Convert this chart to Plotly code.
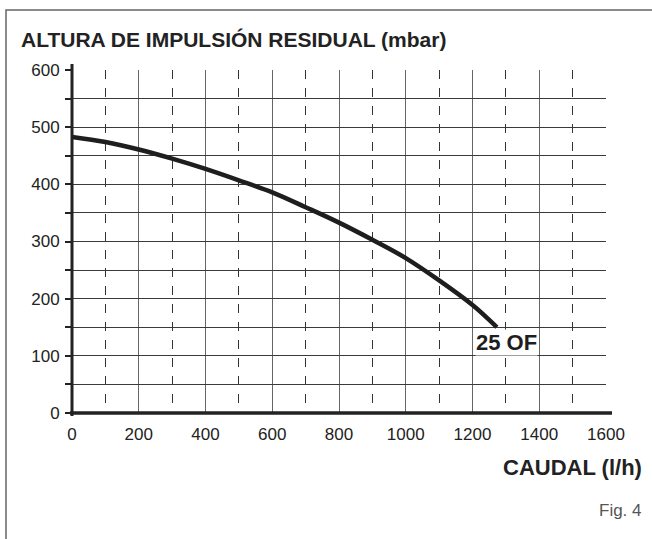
import plotly.graph_objects as go

# ---- data ----
flow = [0, 100, 200, 300, 400, 500, 600, 700, 800, 900, 1000, 1100, 1200, 1250, 1273]
head = [483, 474, 461, 445, 427, 407, 386, 360, 333, 303, 271, 232, 189, 163, 150]
x_ticks = [0, 200, 400, 600, 800, 1000, 1200, 1400, 1600]
x_minor = [100, 300, 500, 700, 900, 1100, 1300, 1500]
y_ticks = list(range(0, 601, 50))
y_labels = [str(v) if v % 100 == 0 else "" for v in y_ticks]
series_name = "25 OF"
label_x = 1302
label_y = 124
title_text = "ALTURA DE IMPULSIÓN RESIDUAL (mbar)"
x_title = "CAUDAL (l/h)"
fig_label = "Fig. 4"

W, H = 652, 539
L, R, T, B = 72, 606, 70, 413  # plot area pixels
pw, ph = R - L, B - T


def px(xp):
    return (xp - L) / pw


def py(yp):
    return (B - yp) / ph


FONT = "Liberation Sans, Arial, sans-serif"
INK = "#1e1e1e"

fig = go.Figure()
fig.add_trace(go.Scatter(
    x=flow, y=head, mode="lines",
    line=dict(color=INK, width=4.5, shape="spline", smoothing=1.0),
    hoverinfo="skip", showlegend=False,
))

fig.update_layout(
    width=W, height=H,
    margin=dict(l=L, r=W - R, t=T, b=H - B),
    paper_bgcolor="white", plot_bgcolor="white",
    font=dict(family=FONT, color="#222"),
    xaxis=dict(
        range=[0, 1600], tickmode="array", tickvals=x_ticks,
        ticktext=[str(v) for v in x_ticks],
        showgrid=True, gridcolor="#666", gridwidth=1.4,
        minor=dict(tickmode="array", tickvals=x_minor,
                   showgrid=True, griddash="dash", gridcolor="#333", gridwidth=1),
        zeroline=False, showline=False, ticks="",
        ticklabelstandoff=9,
        tickfont=dict(family=FONT, size=17, color="#222"),
        automargin=False, fixedrange=True,
    ),
    yaxis=dict(
        range=[0, 600], tickmode="array", tickvals=y_ticks, ticktext=y_labels,
        showgrid=True, gridcolor="#3a3a3a", gridwidth=1.3,
        zeroline=False, showline=False,
        ticks="outside", ticklen=6, tickwidth=1.5, tickcolor="#222",
        ticklabelstandoff=2,
        tickfont=dict(family=FONT, size=17, color="#222"),
        automargin=False, fixedrange=True,
    ),
    shapes=[
        # outer frame
        dict(type="rect", xref="paper", yref="paper",
             x0=px(6), x1=px(670), y0=py(560), y1=py(10),
             line=dict(color="#666", width=1.5), fillcolor="rgba(0,0,0,0)", layer="below"),
        # axis lines
        dict(type="line", xref="paper", yref="paper",
             x0=0, x1=0, y0=py(416), y1=py(64), line=dict(color="#222", width=3)),
        dict(type="line", xref="paper", yref="paper",
             x0=px(70), x1=px(612), y0=0, y1=0, line=dict(color="#222", width=3.5)),
    ],
    annotations=[
        dict(text=f"<b>{series_name}</b>", xref="x", yref="y",
             x=label_x, y=label_y, xanchor="center", yanchor="middle", showarrow=False,
             bgcolor="white", borderpad=0,
             font=dict(family=FONT, size=22, color=INK)),
        dict(text=f"<b>{title_text}</b>", xref="paper", yref="paper",
             x=px(19), y=py(40), xanchor="left", yanchor="middle", showarrow=False,
             font=dict(family=FONT, size=21, color="#222")),
        dict(text=f"<b>{x_title}</b>", xref="paper", yref="paper",
             x=px(644), y=py(467), xanchor="right", yanchor="middle", showarrow=False,
             font=dict(family=FONT, size=22, color="#222")),
        dict(text=fig_label, xref="paper", yref="paper",
             x=px(644), y=py(511), xanchor="right", yanchor="middle", showarrow=False,
             font=dict(family=FONT, size=17, color="#555")),
    ],
)

fig.write_html("out.html", config={"displayModeBar": False},
               post_script="document.body.style.margin='0';")
